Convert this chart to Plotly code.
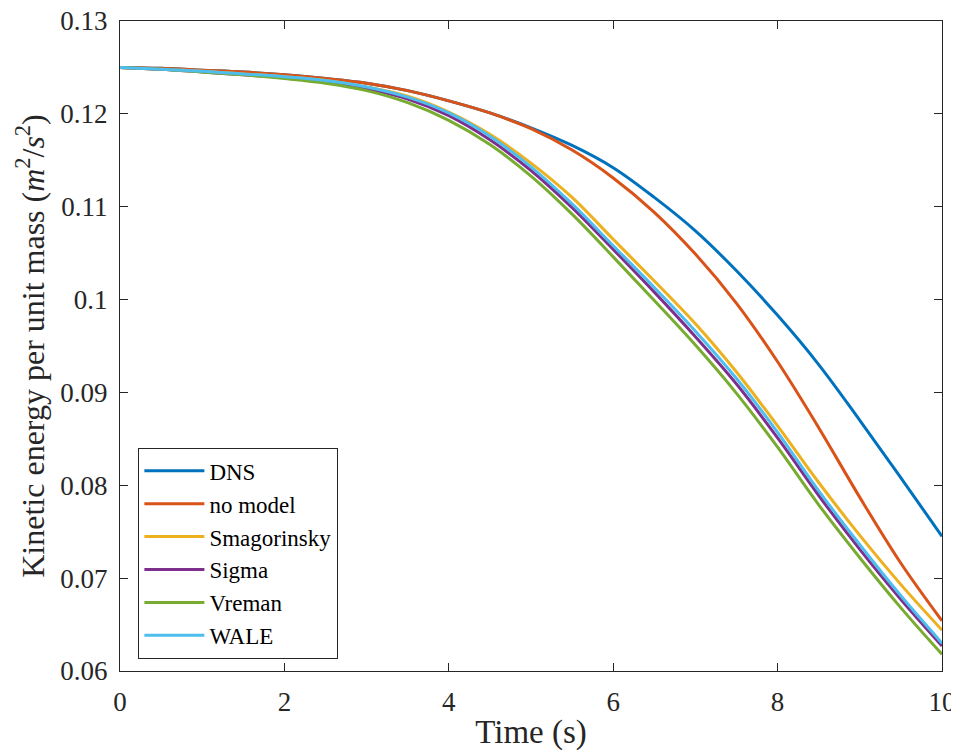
import plotly.graph_objects as go

# time axis (s)
tempo = [0, 0.5, 1, 1.5, 2, 2.5, 3, 3.5, 4, 4.5, 5, 5.5, 6, 6.5, 7, 7.5, 8, 8.5, 9, 9.5, 10]

dns = [0.1250, 0.1249, 0.1247, 0.1245, 0.1242, 0.1238, 0.1233, 0.1225, 0.1214, 0.1201, 0.1185,
       0.1166, 0.1142, 0.1110, 0.1074, 0.1031, 0.0983, 0.0930, 0.0870, 0.0808, 0.0745]
no_model = [0.1250, 0.1249, 0.1247, 0.1245, 0.1242, 0.1238, 0.1233, 0.1225, 0.1214, 0.1201, 0.1184,
            0.1161, 0.1131, 0.1094, 0.1049, 0.0996, 0.0933, 0.0862, 0.0787, 0.0716, 0.0654]
smagorinsky = [0.1250, 0.1248, 0.1246, 0.1243, 0.1240, 0.1236, 0.1229, 0.1219, 0.1202, 0.1178, 0.1147,
               0.1110, 0.1065, 0.1020, 0.0974, 0.0922, 0.0864, 0.0803, 0.0746, 0.0693, 0.0644]
sigma = [0.1250, 0.1248, 0.1245, 0.1242, 0.1239, 0.1234, 0.1227, 0.1216, 0.1198, 0.1172, 0.1139,
         0.1099, 0.1054, 0.1008, 0.0960, 0.0909, 0.0851, 0.0789, 0.0731, 0.0677, 0.0627]
vreman = [0.1250, 0.1248, 0.1245, 0.1242, 0.1238, 0.1233, 0.1225, 0.1212, 0.1193, 0.1167, 0.1133,
          0.1092, 0.1046, 0.0999, 0.0951, 0.0899, 0.0841, 0.0779, 0.0722, 0.0668, 0.0618]
wale = [0.1250, 0.1248, 0.1246, 0.1243, 0.1240, 0.1236, 0.1229, 0.1218, 0.1201, 0.1176, 0.1143,
        0.1103, 0.1058, 0.1013, 0.0966, 0.0915, 0.0857, 0.0794, 0.0736, 0.0681, 0.0630]

series = [
    ("DNS", dns, "#0072BD"),
    ("no model", no_model, "#D95319"),
    ("Smagorinsky", smagorinsky, "#EDB120"),
    ("Sigma", sigma, "#7E2F8E"),
    ("Vreman", vreman, "#77AC30"),
    ("WALE", wale, "#4DBEEE"),
]

x_ticks = [0, 2, 4, 6, 8, 10]
y_ticks = [0.06, 0.07, 0.08, 0.09, 0.10, 0.11, 0.12, 0.13]
y_tick_labels = ["0.06", "0.07", "0.08", "0.09", "0.1", "0.11", "0.12", "0.13"]

FONTE = "Liberation Serif, DejaVu Serif, serif"
COR_EIXO = "#262626"

fig = go.Figure()
for nome, valores, cor in series:
    fig.add_trace(go.Scatter(
        x=tempo, y=valores, name=nome, mode="lines",
        line=dict(color=cor, width=3, shape="spline", smoothing=1.0),
    ))

eixo = dict(
    showgrid=False, zeroline=False, showline=True, linecolor=COR_EIXO, linewidth=1.3,
    mirror="allticks", ticks="inside", ticklen=8, tickwidth=1.3, tickcolor=COR_EIXO,
    tickfont=dict(family=FONTE, size=27, color=COR_EIXO),
    automargin=False, ticklabelstandoff=6, ticklabeloverflow="allow",
)

# a pagina tem margem de 8px no body, entao a figura e um pouco menor
fig.update_layout(
    width=951, height=744,
    margin=dict(l=112, r=17, t=13, b=81),
    paper_bgcolor="white", plot_bgcolor="white",
    font=dict(family=FONTE, color=COR_EIXO),
    xaxis=dict(eixo, range=[0, 10], tickvals=x_ticks,
               title=dict(text="Time (s)", font=dict(family=FONTE, size=33), standoff=4)),
    yaxis=dict(eixo, range=[0.06, 0.13], tickvals=y_ticks, ticktext=y_tick_labels,
               title=dict(text="Kinetic energy per unit mass (<i>m</i><sup>2</sup>/<i>s</i><sup>2</sup>)",
                          font=dict(family=FONTE, size=32), standoff=6)),
    legend=dict(
        x=0.022, y=0.343, xanchor="left", yanchor="top",
        bgcolor="white", bordercolor=COR_EIXO, borderwidth=1.3,
        font=dict(family=FONTE, size=23, color="black"),
        itemwidth=60, tracegroupgap=0,
    ),
)

fig.write_html("out.html")
